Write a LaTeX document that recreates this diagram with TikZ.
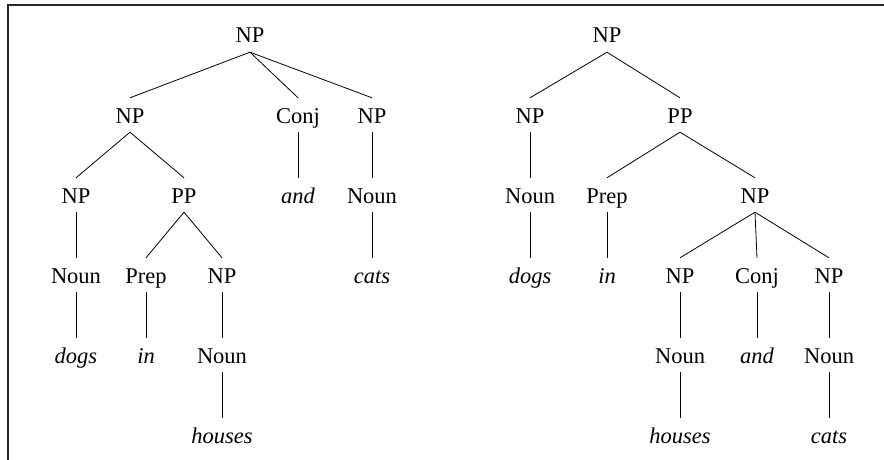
\documentclass[tikz,border=0pt]{standalone}
\usepackage{fontspec}
\setmainfont{Liberation Serif}
\begin{document}
\begin{tikzpicture}[x=1pt,y=-1pt,
  tn/.style={inner sep=0pt, text height=25pt, text depth=9pt, anchor=base, font=\fontsize{22.5}{26}\selectfont},
  lf/.style={tn, font=\fontsize{22.5}{26}\selectfont\itshape},
  edge/.style={line width=0.8pt},
  frame/.style={line width=1.3pt, black!85}]
\useasboundingbox (0,0) rectangle (884,460);
\draw[frame] (8,460) -- (8,5) -- (884,5);
% left tree
\node[tn] (a) at (250,43) {NP};
\node[tn] (a1) at (130,123) {NP};
\node[tn] (a2) at (298,123) {Conj};
\node[tn] (a3) at (372,123) {NP};
\node[tn] (a11) at (76,203) {NP};
\node[tn] (a12) at (184,203) {PP};
\node[lf] (a21) at (298,203) {and};
\node[tn] (a31) at (372,203) {Noun};
\node[tn] (a111) at (76,283) {Noun};
\node[tn] (a121) at (146,283) {Prep};
\node[tn] (a122) at (222,283) {NP};
\node[lf] (a311) at (372,283) {cats};
\node[lf] (a1111) at (76,363) {dogs};
\node[lf] (a1211) at (146,363) {in};
\node[tn] (a1221) at (222,363) {Noun};
\node[lf] (a12211) at (222,443) {houses};
\foreach \p/\c in {a/a1,a/a2,a/a3,a1/a11,a1/a12,a2/a21,a3/a31,a11/a111,a12/a121,a12/a122,a31/a311,a111/a1111,a121/a1211,a122/a1221,a1221/a12211}
  \draw[edge] (\p.south) -- (\c.north);
% right tree
\node[tn] (b) at (607,43) {NP};
\node[tn] (b1) at (530,123) {NP};
\node[tn] (b2) at (680,123) {PP};
\node[tn] (b11) at (530,203) {Noun};
\node[tn] (b21) at (607,203) {Prep};
\node[tn] (b22) at (755,203) {NP};
\node[lf] (b111) at (530,283) {dogs};
\node[lf] (b211) at (607,283) {in};
\node[tn] (b221) at (680,283) {NP};
\node[tn] (b222) at (757,283) {Conj};
\node[tn] (b223) at (829,283) {NP};
\node[tn] (b2211) at (680,363) {Noun};
\node[lf] (b2221) at (757,363) {and};
\node[tn] (b2231) at (829,363) {Noun};
\node[lf] (b22111) at (680,443) {houses};
\node[lf] (b22311) at (829,443) {cats};
\foreach \p/\c in {b/b1,b/b2,b1/b11,b2/b21,b2/b22,b11/b111,b21/b211,b22/b221,b22/b222,b22/b223,b221/b2211,b222/b2221,b223/b2231,b2211/b22111,b2231/b22311}
  \draw[edge] (\p.south) -- (\c.north);
\end{tikzpicture}
\end{document}
